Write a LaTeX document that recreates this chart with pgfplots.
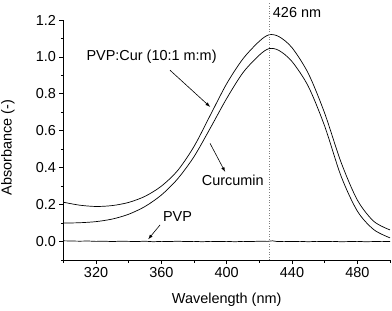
\documentclass[border=0pt]{standalone}
\usepackage{pgfplots}
\pgfplotsset{compat=1.18}
\usepackage{fontspec}
\setmainfont{Liberation Sans}
\begin{document}
\begin{tikzpicture}[font=\fontsize{14.5}{16}\selectfont]
\begin{axis}[
  scale only axis, width=326.6bp, height=240bp,
  xmin=300, xmax=500, ymin=-0.1, ymax=1.2,
  axis x line*=bottom, axis y line*=left,
  axis line style={line width=0.8pt},
  tick align=outside,
  major tick length=4bp, minor tick length=2.5bp,
  every tick/.style={black, line width=0.8pt},
  xtick={320,360,400,440,480}, minor xtick={300,340,380,420,460,500},
  ytick={0,0.2,0.4,0.6,0.8,1.0,1.2}, minor ytick={-0.1,0.1,0.3,0.5,0.7,0.9,1.1},
  /pgf/number format/assume math mode=true,
  tick label style={font=\fontsize{14.5}{16}\selectfont},
  label style={font=\fontsize{14.5}{16}\selectfont},
  yticklabel style={/pgf/number format/fixed, /pgf/number format/fixed zerofill, /pgf/number format/precision=1},
  xlabel={Wavelength (nm)}, ylabel={Absorbance (-)},
  xlabel style={at={(rel axis cs:0.5,-0.1667)}, anchor=center},
  ylabel style={at={(rel axis cs:-0.17,0.469)}, anchor=center, rotate=0},
  clip=false,
]
\addplot[black, line width=0.7pt, smooth] coordinates {
(300,0.213)(310,0.197)(320,0.190)(330,0.195)(340,0.212)(350,0.245)(360,0.300)
(370,0.385)(380,0.515)(390,0.685)(400,0.855)(410,0.990)(420,1.085)(426,1.120)
(432,1.110)(440,1.050)(450,0.910)(460,0.695)(470,0.430)(480,0.225)(490,0.110)(500,0.063)};
\addplot[black, line width=0.7pt, smooth] coordinates {
(300,0.100)(310,0.102)(320,0.108)(330,0.122)(340,0.148)(350,0.190)(360,0.252)
(370,0.340)(380,0.460)(390,0.615)(400,0.775)(410,0.915)(420,1.010)(426,1.045)
(432,1.035)(440,0.975)(450,0.840)(460,0.625)(470,0.355)(480,0.165)(490,0.065)(500,0.020)};
\addplot[black, line width=0.7pt] coordinates {
(300,0.004)(305,0.003)(310,0.002)(315,0.003)(320,0.001)(325,0.002)(330,0.000)(335,0.002)
(340,0.001)(345,0.000)(350,0.002)(355,-0.001)(360,0.001)(365,0.000)(370,0.002)(375,0.000)
(380,0.001)(385,-0.001)(390,0.001)(395,0.000)(400,0.001)(405,-0.001)(410,0.001)(415,0.000)
(420,0.002)(425,0.001)(428,0.004)(431,0.000)(435,0.001)(440,0.000)(445,0.001)(450,-0.001)
(455,0.001)(460,0.000)(465,0.001)(470,-0.001)(475,0.000)(480,0.001)(485,-0.001)(490,0.000)
(495,0.001)(500,0.000)};
\draw[gray, dotted, line width=0.6pt] (axis cs:426,-0.1) -- (axis cs:426,1.3);
\node[anchor=west, inner sep=0pt] at (axis cs:428.2,1.24) {426 nm};
\node[inner sep=0pt] at (axis cs:354,1.0) {PVP:Cur (10:1 m:m)};
\draw[-latex, line width=0.6pt] (axis cs:365.3,0.928) -- (axis cs:389.8,0.73);
\node[inner sep=0pt] at (axis cs:403.7,0.334) {Curcumin};
\draw[-latex, line width=0.6pt] (axis cs:389.8,0.532) -- (axis cs:399,0.378);
\node[inner sep=0pt] at (axis cs:369.9,0.135) {PVP};
\draw[-latex, line width=0.6pt] (axis cs:359.2,0.09) -- (axis cs:352,0.013);
\coordinate (bl) at (rel axis cs:-0.194,-0.2083);
\coordinate (tr) at (rel axis cs:1.0061,1.0833);
\end{axis}
\pgfresetboundingbox
\path[use as bounding box] (bl) rectangle (tr);
\end{tikzpicture}
\end{document}
